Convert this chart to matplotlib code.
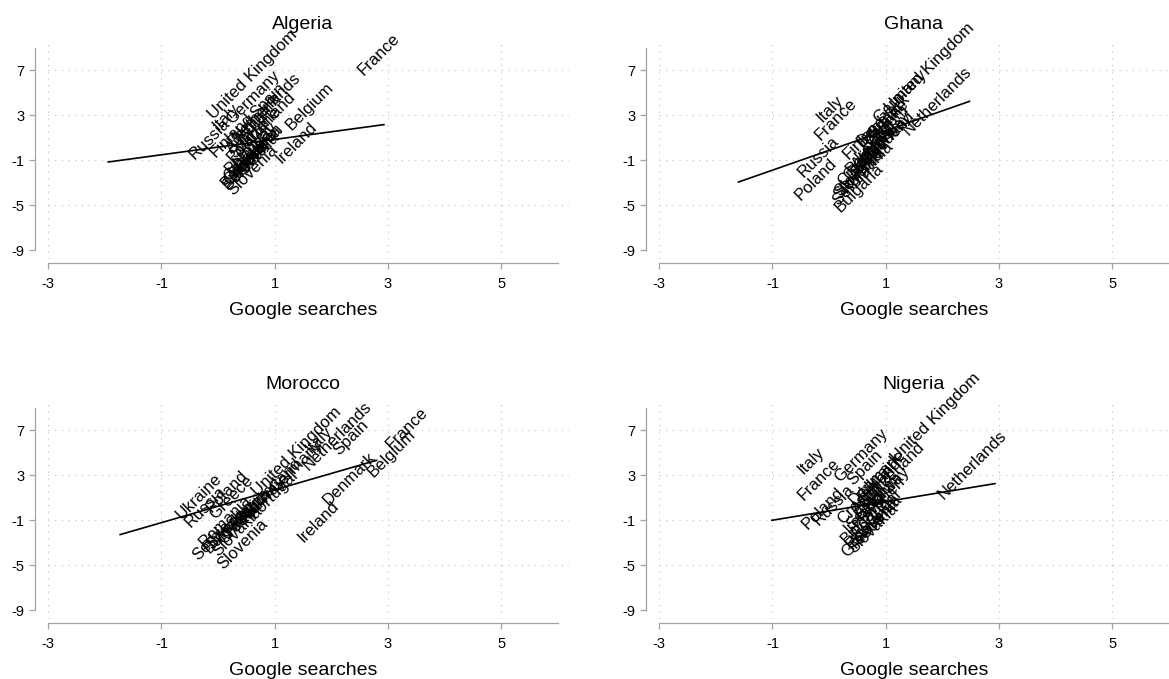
import numpy as np
import matplotlib.pyplot as plt

plt.rcParams['font.family'] = ['Liberation Sans', 'DejaVu Sans']
plt.rcParams['axes.unicode_minus'] = False

countries = ['Austria', 'Belgium', 'Bulgaria', 'Croatia', 'Denmark', 'Finland',
             'France', 'Germany', 'Greece', 'Ireland', 'Italy', 'Netherlands',
             'Norway', 'Poland', 'Portugal', 'Romania', 'Russia', 'Serbia',
             'Slovakia', 'Slovenia', 'Spain', 'Sweden', 'Switzerland', 'Ukraine',
             'United Kingdom']

# google searches (x) vs outcome (y), one pair of lists per origin country
algeria_x = [0.05, 1.10, -0.05, 0.00, 0.07, -0.24, 2.37, 0.04, 0.00, 0.92, -0.19, 0.14,
             0.15, 0.05, 0.01, 0.10, -0.61, -0.02, 0.10, 0.07, 0.47, 0.20, 0.10, 0.20, -0.28]
algeria_y = [0.2, 2.24, -2.9, -2.3, 0.81, -0.14, 7.13, 2.83, -2.6, -0.72, 2.24, 1.26,
             -1.0, -0.6, -1.67, -1.9, -0.28, -3.1, -2.4, -3.54, 3.37, -1.4, -0.2, 0.3, 3.28]

ghana_x = [0.30, 0.45, -0.01, 0.05, 0.39, 0.14, -0.36, 0.68, 0.15, 0.35, -0.33, 1.20,
           0.56, -0.71, 0.20, 0.10, -0.65, -0.04, 0.00, -0.02, 0.60, 0.45, 0.25, 0.50, 0.89]
ghana_y = [-1.2, 0.4, -5.03, -2.7, 0.8, -0.28, 1.35, 2.88, -2.2, -0.5, 2.98, 1.79,
           0.0, -3.99, -1.6, -3.3, -1.91, -4.43, -3.6, -3.9, 1.6, -0.9, -1.9, 1.0, 3.84]

morocco_x = [0.10, 2.54, -0.35, -0.10, 1.75, 0.00, 2.87, 0.80, -0.25, 1.31, 1.45, 1.39,
             0.30, -0.31, 0.44, -0.45, -0.69, -0.55, -0.20, -0.11, 1.93, -0.30, 0.20, -0.84, 0.50]
morocco_y = [-1.3, 3.42, -3.3, -2.5, 0.9, -1.8, 5.94, 2.0, -0.28, -2.36, 5.6, 4.01,
             -0.5, 0.31, -0.34, -2.85, -1.03, -3.99, -3.6, -4.73, 5.35, -3.0, -0.8, -0.28, 1.73]

nigeria_x = [0.30, 0.35, 0.11, 0.05, 0.25, 0.40, -0.65, -0.01, 0.11, 0.15, -0.65, 1.82,
             0.53, -0.59, 0.30, 0.20, -0.39, 0.20, 0.25, 0.30, 0.22, 0.40, 0.41, 0.45, 1.00]
nigeria_y = [0.2, -0.3, -2.5, -0.73, 0.9, 1.3, 1.35, 2.98, -3.69, -1.6, 3.72, 1.5,
             0.37, -1.17, -2.0, -3.0, -0.87, -1.2, -3.3, -2.6, 2.75, -0.8, 0.64, 1.8, 4.76]

# fitted line end points
algeria_fit_x, algeria_fit_y = [-1.94, 2.93], [-1.15, 2.17]
ghana_fit_x, ghana_fit_y = [-1.60, 2.48], [-2.93, 4.24]
morocco_fit_x, morocco_fit_y = [-1.73, 2.80], [-2.27, 4.33]
nigeria_fit_x, nigeria_fit_y = [-1.01, 2.93], [-1.00, 2.26]

xticks = [-3, -1, 1, 3, 5]
yticks = [-9, -5, -1, 3, 7]

panels = [
    ('Algeria', algeria_x, algeria_y, algeria_fit_x, algeria_fit_y, (48.3, 38.8)),
    ('Ghana', ghana_x, ghana_y, ghana_fit_x, ghana_fit_y, (659.3, 38.8)),
    ('Morocco', morocco_x, morocco_y, morocco_fit_x, morocco_fit_y, (48.3, 398.8)),
    ('Nigeria', nigeria_x, nigeria_y, nigeria_fit_x, nigeria_fit_y, (659.3, 398.8)),
]

W, H = 1169, 679
fig = plt.figure(figsize=(W / 100, H / 100), dpi=100)

xlo, xhi = -3, 6.2
ylo, yhi = -9.8, 9.8
aw, ah = 520.7, 220.5
grey = '#a3a3a3'

for name, xs, ys, fx, fy, (left, top) in panels:
    ax = fig.add_axes([left / W, 1 - (top + ah) / H, aw / W, ah / H])
    ax.set_xlim(xlo, xhi)
    ax.set_ylim(ylo, yhi)

    # dotted grid, none on the bottom y tick
    for t in yticks[1:]:
        ax.axhline(t, color='#bdbdbd', lw=0.8, dashes=(1, 5), zorder=0)
    for t in xticks:
        ax.axvline(t, color='#bdbdbd', lw=0.8, dashes=(1, 5), zorder=0)

    ax.plot(fx, fy, color='black', lw=1.2, zorder=3)
    # marker labels at 45 degrees, set off a little from the point
    for c, x, y in zip(countries, xs, ys):
        ax.annotate(c, (x, y), xytext=(6, -3), textcoords='offset points',
                    rotation=45, rotation_mode='anchor', ha='left', va='center',
                    fontsize=12, zorder=4)

    for s in ['top', 'right']:
        ax.spines[s].set_visible(False)
    ax.spines['left'].set_position(('outward', 9.6))
    ax.spines['bottom'].set_position(('outward', 2.7))
    ax.spines['left'].set_bounds(-9, 9)
    ax.spines['bottom'].set_bounds(-3, 6)
    for s in ['left', 'bottom']:
        ax.spines[s].set_color(grey)
        ax.spines[s].set_linewidth(0.9)
    ax.set_xticks(xticks)
    ax.set_yticks(yticks)
    ax.tick_params(colors=grey, labelcolor='black', labelsize=10.5, length=4.5, width=0.9)
    ax.tick_params(axis='x', pad=5.5)
    ax.tick_params(axis='y', pad=3)
    ax.patch.set_visible(False)

    mid = (1.5 - xlo) / (xhi - xlo)
    ax.set_title(name, fontsize=14, pad=7, x=mid)
    ax.set_xlabel('Google searches', fontsize=14, labelpad=8, x=mid)

fig.savefig('out.png', dpi=100, facecolor='white')
